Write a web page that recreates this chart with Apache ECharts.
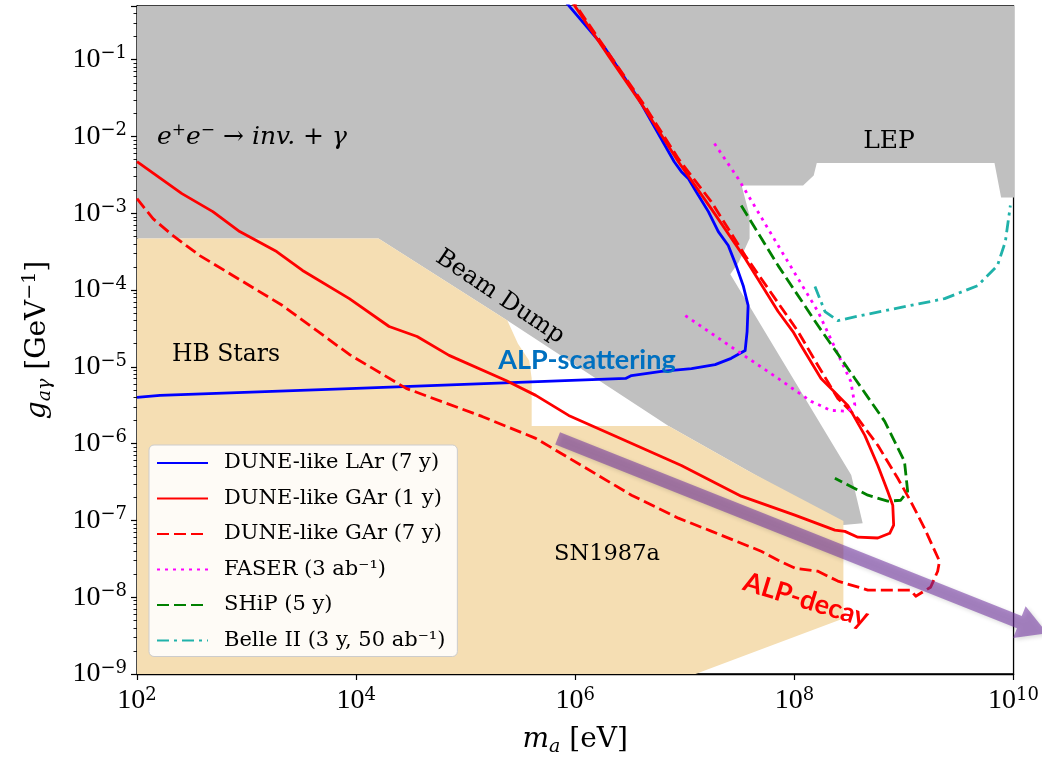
<!DOCTYPE html>
<html>
<head>
<meta charset="utf-8">
<script src="https://cdn.jsdelivr.net/npm/echarts@6/dist/echarts.min.js"></script>
<style>html,body{margin:0;padding:0;background:#fff}#c{width:1042px;height:762px}</style>
</head>
<body>
<div id="c"></div>
<script>
// ---------- excluded regions (m_a [eV], g [GeV^-1]) ----------
const grayM = [100, 100, 2e10, 2e10, 7.7e9, 6.7e9, 1.6e8, 1.5e8, 1.2e8, 3.3e7, 3.9e7, 3.9e7, 3.1e7, 2.6e7, 3.3e8, 4.2e8, 2.8e8, 3.8e7, 7.1e6, 2.4e5, 1.6e4];
const grayG = [4.7e-4, 1, 1, 1.6e-3, 1.6e-3, 4.5e-3, 4.5e-3, 3.1e-3, 2.3e-3, 2.3e-3, 9.3e-4, 4.7e-4, 2.3e-4, 1.6e-4, 3.9e-7, 9.2e-8, 8.7e-8, 4.4e-7, 1.7e-6, 4.0e-5, 4.7e-4];
const tanM = [100, 1.6e4, 2.4e5, 3.0e5, 3.8e5, 4.0e5, 4.0e5, 7.1e6, 3.8e7, 2.8e8, 2.8e8, 1.25e7, 100];
const tanG = [4.7e-4, 4.7e-4, 4.0e-5, 2.0e-5, 1.2e-5, 7.1e-6, 1.7e-6, 1.7e-6, 4.4e-7, 9.8e-8, 5.3e-9, 1e-9, 1e-9];

// ---------- sensitivity curves ----------
const larM = [100, 162, 8.7e3, 2.88e6, 3.26e6, 6.11e6, 1.15e7, 1.89e7, 2.65e7, 3.55e7, 3.7e7, 3.78e7, 3.41e7, 2.94e7, 2.49e7, 2.02e7, 1.64e7, 1.27e7, 1.08e7, 9.3e6, 8.0e6, 3.78e6, 1.89e6, 6.5e5];
const larG = [4.0e-6, 4.25e-6, 5.2e-6, 7.06e-6, 7.7e-6, 8.7e-6, 9.5e-6, 1.07e-5, 1.29e-5, 1.63e-5, 2.88e-5, 6.3e-5, 1.14e-4, 2.08e-4, 3.8e-4, 5.77e-4, 1.05e-3, 1.91e-3, 2.82e-3, 3.48e-3, 4.69e-3, 3.09e-2, 0.138, 0.83];

const gar1M = [100, 257, 492, 865, 1.88e3, 3.24e3, 8.67e3, 2.0e4, 3.6e4, 7.05e4, 2.33e5, 4.36e5, 8.7e5, 2.33e6, 9.3e6, 3.27e7, 1.01e8, 2.34e8, 2.89e8, 3.79e8, 5.77e8, 7.41e8, 8.05e8, 7.9e8, 7.1e8, 5.77e8, 4.39e8, 3.07e8, 1.75e8, 1.15e8, 9.7e7, 7.1e7, 3.55e7, 1.74e7, 8.73e6, 4.02e6, 2.1e6, 7.8e5];
const gar1G = [4.69e-3, 1.8e-3, 1.05e-3, 5.77e-4, 3.17e-4, 1.8e-4, 7.74e-5, 3.35e-5, 2.48e-5, 1.41e-5, 6.65e-6, 4.25e-6, 2.33e-6, 1.25e-6, 5.2e-7, 2.07e-7, 1.17e-7, 7.47e-8, 7.2e-8, 6.05e-8, 5.9e-8, 6.8e-8, 8.7e-8, 1.58e-7, 2.4e-7, 5.2e-7, 1.28e-6, 3.15e-6, 7.06e-6, 1.9e-5, 2.88e-5, 5.25e-5, 2.57e-4, 1.15e-3, 4.69e-3, 2.66e-2, 0.102, 0.83];

const gar7M = [100, 140, 213, 374, 748, 2.13e3, 8.67e3, 2.86e4, 1.41e5, 4.36e5, 1.14e6, 3.26e6, 8.73e6, 1.74e7, 4.97e7, 7.1e7, 1.01e8, 1.64e8, 2.49e8, 4.68e8, 1.15e9, 1.28e9, 1.75e9, 2.03e9, 2.11e9, 1.54e9, 1.15e9, 8.77e8, 5.77e8, 3.79e8, 2.49e8, 1.64e8, 1.08e8, 3.55e7, 1.74e7, 8.73e6, 4.19e6, 2.19e6, 8.0e5];
const gar7G = [1.55e-3, 8.5e-4, 5.12e-4, 2.81e-4, 1.55e-4, 6.28e-5, 1.45e-5, 5.24e-6, 2.26e-6, 1.17e-6, 5.2e-7, 2.13e-7, 1.07e-7, 7.25e-8, 3.97e-8, 3.03e-8, 2.39e-8, 2.18e-8, 1.62e-8, 1.24e-8, 1.24e-8, 1.03e-8, 1.35e-8, 2.18e-8, 2.94e-8, 7.9e-8, 1.78e-7, 3.54e-7, 9.5e-7, 2.13e-6, 3.88e-6, 1.04e-5, 2.88e-5, 2.81e-4, 1.42e-3, 5.13e-3, 2.66e-2, 0.102, 0.83];

const faserM = [1.01e7, 3.07e7, 7.1e7, 1.42e8, 2.15e8, 3.07e8, 3.56e8, 3.27e8, 1.64e8, 7.1e7, 3.07e7, 1.82e7];
const faserG = [4.65e-5, 1.58e-5, 7.06e-6, 3.55e-6, 2.71e-6, 2.63e-6, 3.18e-6, 6.46e-6, 5.25e-5, 3.8e-4, 2.82e-3, 8.5e-3];

const shipM = [3.27e7, 7.1e7, 1.64e8, 3.56e8, 6.67e8, 1.01e9, 1.08e9, 9.33e8, 7.1e8, 4.68e8, 2.34e8];
const shipG = [1.26e-3, 2.08e-4, 3.45e-5, 7.06e-6, 1.95e-6, 5.89e-7, 2.4e-7, 1.83e-7, 1.78e-7, 2.13e-7, 3.54e-7];

const belleM = [1.54e8, 1.9e8, 2.49e8, 4.04e8, 2.35e9, 4.69e9, 7.13e9, 8.42e9, 9.35e9];
const belleG = [1.11e-4, 5.25e-5, 4.0e-5, 4.65e-5, 7.74e-5, 1.14e-4, 2.08e-4, 4.28e-4, 1.26e-3];

// annotation arrow: [m_start, g_start, m_end, g_end]
const arrowFromTo = [6.9e5, 1.17e-6, 2.03e10, 3.4e-9];

const legendNames = ['DUNE-like LAr (7 y)', 'DUNE-like GAr (1 y)', 'DUNE-like GAr (7 y)', 'FASER (3 ab\u207B\u00B9)', 'SHiP (5 y)', 'Belle II (3 y, 50 ab\u207B\u00B9)'];
const xTickExps = [2, 4, 6, 8, 10];

// ---------- build ----------
const SERIF = '"DejaVu Serif"';
const NUMF = '"Liberation Serif"';
const pairs = (m, g) => m.map((v, i) => [v, g[i]]);

function region(name, m, g, color, z) {
  return {
    type: 'custom', name: name, coordinateSystem: 'cartesian2d', clip: true, silent: true, z: z,
    data: [[m[0], g[0]]],
    renderItem: function (params, api) {
      const pts = m.map((v, i) => api.coord([v, g[i]]));
      return { type: 'polygon', shape: { points: pts }, style: { fill: color } };
    }
  };
}
function curve(name, m, g, color, dash) {
  return {
    type: 'line', name: name, data: pairs(m, g), symbol: 'none', showSymbol: false, clip: true, z: 5,
    lineStyle: { color: color, width: 2.8, type: dash, cap: 'butt', join: 'round' },
    itemStyle: { color: color }, emphasis: { disabled: true }, silent: true
  };
}

const supLabel = (v) => {
  const l = Math.log10(v);
  const e = Math.round(l);
  if (Math.abs(l - e) > 1e-6) return '';
  return '{b|10}{s|' + (e < 0 ? '\u2212' + (-e) : e) + '}';
};
const tickRich = {
  b: { fontFamily: NUMF, fontSize: 28, color: '#000', lineHeight: 30 },
  s: { fontFamily: SERIF, fontSize: 18, color: '#000', lineHeight: 22, verticalAlign: 'top' }
};

const chart = echarts.init(document.getElementById('c'));
chart.setOption({
  animation: false,
  backgroundColor: '#fff',
  grid: { left: 137, right: 26, top: 6, bottom: 86, show: true, borderColor: '#000', borderWidth: 1.3, backgroundColor: 'transparent' },
  xAxis: {
    type: 'log', logBase: 10, min: 100, max: 1e10, interval: 2, splitNumber: 5,
    axisLine: { show: true, lineStyle: { color: '#000', width: 1.3 } },
    axisTick: { show: true, inside: false, length: 6, lineStyle: { color: '#000', width: 1.2 } },
    splitLine: { show: false },
    axisLabel: {
      margin: 12, formatter: function (v) {
        const e = Math.round(Math.log10(v));
        if (xTickExps.indexOf(e) < 0 || Math.abs(Math.log10(v) - e) > 1e-6) return '';
        return supLabel(v);
      }, rich: tickRich
    },
    name: '{i|m}{s|a}{n| [eV]}', nameLocation: 'middle', nameGap: 49,
    nameTextStyle: {
      rich: {
        i: { fontFamily: SERIF, fontStyle: 'italic', fontSize: 28, lineHeight: 34, color: '#000' },
        s: { fontFamily: SERIF, fontStyle: 'italic', fontSize: 19, lineHeight: 19, verticalAlign: 'bottom', color: '#000' },
        n: { fontFamily: SERIF, fontSize: 28, lineHeight: 34, color: '#000' }
      }
    }
  },
  yAxis: {
    type: 'log', logBase: 10, min: 1e-9, max: 0.5, splitNumber: 9,
    axisLine: { show: true, lineStyle: { color: '#000', width: 1.3 } },
    axisTick: { show: true, inside: false, length: 6, lineStyle: { color: '#000', width: 1.2 } },
    minorTick: { show: true, splitNumber: 9, length: 3.5, lineStyle: { color: '#000', width: 0.9 } },
    splitLine: { show: false },
    axisLabel: { margin: 10, formatter: supLabel, rich: tickRich, showMaxLabel: false },
    name: '{i|g}{s|a\u03B3}{n| [GeV}{p|\u22121}{n|]}', nameLocation: 'middle', nameGap: 82,
    nameTextStyle: {
      rich: {
        i: { fontFamily: SERIF, fontStyle: 'italic', fontSize: 28, lineHeight: 34, color: '#000' },
        s: { fontFamily: SERIF, fontStyle: 'italic', fontSize: 19, lineHeight: 19, verticalAlign: 'bottom', color: '#000' },
        n: { fontFamily: SERIF, fontSize: 28, lineHeight: 34, color: '#000' },
        p: { fontFamily: SERIF, fontSize: 19, lineHeight: 24, verticalAlign: 'top', color: '#000' }
      }
    }
  },
  legend: {
    data: legendNames, orient: 'vertical', left: 149, top: 445,
    itemWidth: 51, itemHeight: 14, itemGap: 11.5, selectedMode: false,
    padding: [6, 12, 4, 7],
    itemStyle: { color: 'transparent', borderColor: 'transparent', borderWidth: 0, opacity: 0 },
    backgroundColor: 'rgba(255,255,255,0.88)', borderColor: '#cccccc', borderWidth: 1, borderRadius: 5,
    textStyle: { fontFamily: SERIF, fontSize: 21, color: '#000', lineHeight: 24, padding: [0, 0, 0, 11] }
  },
  series: [
    region('gray', grayM, grayG, '#c0c0c0', 1),
    region('tan', tanM, tanG, '#f5deb3', 2),
    curve(legendNames[0], larM, larG, '#0000ff', 'solid'),
    curve(legendNames[1], gar1M, gar1G, '#ff0000', 'solid'),
    curve(legendNames[2], gar7M, gar7G, '#ff0000', [12, 5]),
    curve(legendNames[3], faserM, faserG, '#ff00ff', [3, 5]),
    curve(legendNames[4], shipM, shipG, '#008000', [12, 5]),
    curve(legendNames[5], belleM, belleG, '#20b2aa', [12, 5, 3, 5]),
    {
      type: 'custom', name: 'arrow', coordinateSystem: 'cartesian2d', clip: false, silent: true, z: 20,
      data: [arrowFromTo],
      renderItem: function (params, api) {
        const p1 = api.coord([api.value(0), api.value(1)]);
        const p2 = api.coord([api.value(2), api.value(3)]);
        const dx = p2[0] - p1[0], dy = p2[1] - p1[1];
        const L = Math.sqrt(dx * dx + dy * dy);
        const ux = dx / L, uy = dy / L, nx = -uy, ny = ux;
        const hw = 6.5, hh = 17, hl = 30;
        const bx = p2[0] - ux * hl, by = p2[1] - uy * hl;
        const pts = [
          [p1[0] + nx * hw, p1[1] + ny * hw],
          [bx + nx * hw, by + ny * hw],
          [bx + nx * hh, by + ny * hh],
          [p2[0], p2[1]],
          [bx - nx * hh, by - ny * hh],
          [bx - nx * hw, by - ny * hw],
          [p1[0] - nx * hw, p1[1] - ny * hw]
        ];
        return { type: 'polygon', shape: { points: pts }, style: { fill: 'rgba(112,48,160,0.55)', shadowBlur: 4, shadowOffsetX: 2, shadowOffsetY: 2, shadowColor: 'rgba(0,0,0,0.25)' } };
      }
    }
  ],
  graphic: [
    { type: 'text', x: 157, y: 137, z: 30, silent: true, style: {
        text: '{i|e}{p|+}{i|e}{p|\u2212}{n| \u2192 }{i|inv.}{n| + }{i|\u03B3}', align: 'left', verticalAlign: 'middle',
        rich: {
          i: { fontFamily: SERIF, fontStyle: 'italic', fontSize: 25, lineHeight: 30, fill: '#000' },
          n: { fontFamily: SERIF, fontSize: 25, lineHeight: 30, fill: '#000' },
          p: { fontFamily: SERIF, fontSize: 17, lineHeight: 18, verticalAlign: 'top', fill: '#000' }
        } } },
    { type: 'text', x: 889, y: 141, z: 30, silent: true, style: { text: 'LEP', font: '25px "DejaVu Serif"', fill: '#000', align: 'center', verticalAlign: 'middle' } },
    { type: 'text', x: 172, y: 355, z: 30, silent: true, style: { text: 'HB Stars', font: '23.5px "DejaVu Serif"', fill: '#000', align: 'left', verticalAlign: 'middle' } },
    { type: 'text', x: 607, y: 554, z: 30, silent: true, style: { text: 'SN1987a', font: '22.5px "DejaVu Serif"', fill: '#000', align: 'center', verticalAlign: 'middle' } },
    { type: 'text', x: 500, y: 297, z: 30, rotation: -34 * Math.PI / 180, silent: true, style: { text: 'Beam Dump', font: '24px "DejaVu Serif"', fill: '#000', align: 'center', verticalAlign: 'middle' } },
    { type: 'text', x: 587, y: 360, z: 30, silent: true, style: { text: 'ALP-scattering', font: 'bold 27px Lato', fill: '#0070c0', align: 'center', verticalAlign: 'middle' } },
    { type: 'text', x: 806, y: 600, z: 30, rotation: -17 * Math.PI / 180, silent: true, style: { text: 'ALP-decay', font: 'bold 27px Lato', fill: '#ff0000', align: 'center', verticalAlign: 'middle' } }
  ]
});
</script>
</body>
</html>
